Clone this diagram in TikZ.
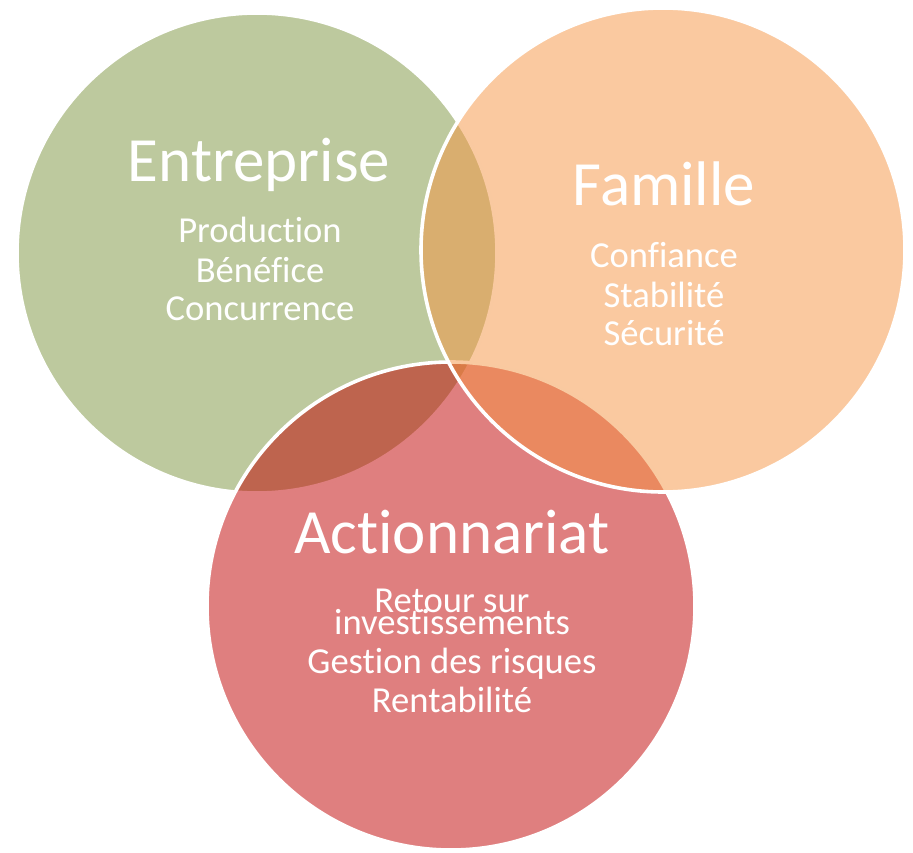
\documentclass[tikz,border=0pt]{standalone}
\usepackage{fontspec}
\setmainfont{Carlito}[Ligatures={NoCommon}]
\definecolor{entgreen}{RGB}{123,147,61}
\definecolor{actred}{RGB}{192,0,0}
\definecolor{famorange}{RGB}{245,148,66}
\begin{document}
\begin{tikzpicture}[x=1pt,y=-1pt,
  set/.style={draw=white,line width=3.6pt,fill opacity=0.5,draw opacity=1},
  title/.style={text=white,anchor=base,inner sep=0pt,font=\fontsize{63}{63}\selectfont},
  item/.style={text=white,anchor=base,inner sep=0pt,font=\fontsize{36.6}{36.6}\selectfont}]
  \useasboundingbox (0,0) rectangle (913,853);
  % the three overlapping sets
  \path[set,fill=entgreen]  (257,253) circle (240);
  \path[set,fill=actred]    (451,606) circle (244);
  \path[set,fill=famorange] (663,250) circle (242);
  % Entreprise
  \node[title] (ent)  at (259,182) {Entreprise};
  \node[item]  (ent1) at (260,243) {Production};
  \node[item]  (ent2) at (260,282) {Bénéfice};
  \node[item]  (ent3) at (260,320) {Concurrence};
  % Famille
  \node[title] (fam)  at (664,206) {Famille};
  \node[item]  (fam1) at (664,268) {Confiance};
  \node[item]  (fam2) at (664,307) {Stabilité};
  \node[item]  (fam3) at (664,345) {Sécurité};
  % Actionnariat
  \node[title] (act)  at (452,553) {Actionnariat};
  \node[item]  (act1) at (452,612) {Retour sur};
  \node[item]  (act2) at (452,634) {investissements};
  \node[item]  (act3) at (452,673) {Gestion des risques};
  \node[item]  (act4) at (452,712) {Rentabilité};
\end{tikzpicture}
\end{document}
